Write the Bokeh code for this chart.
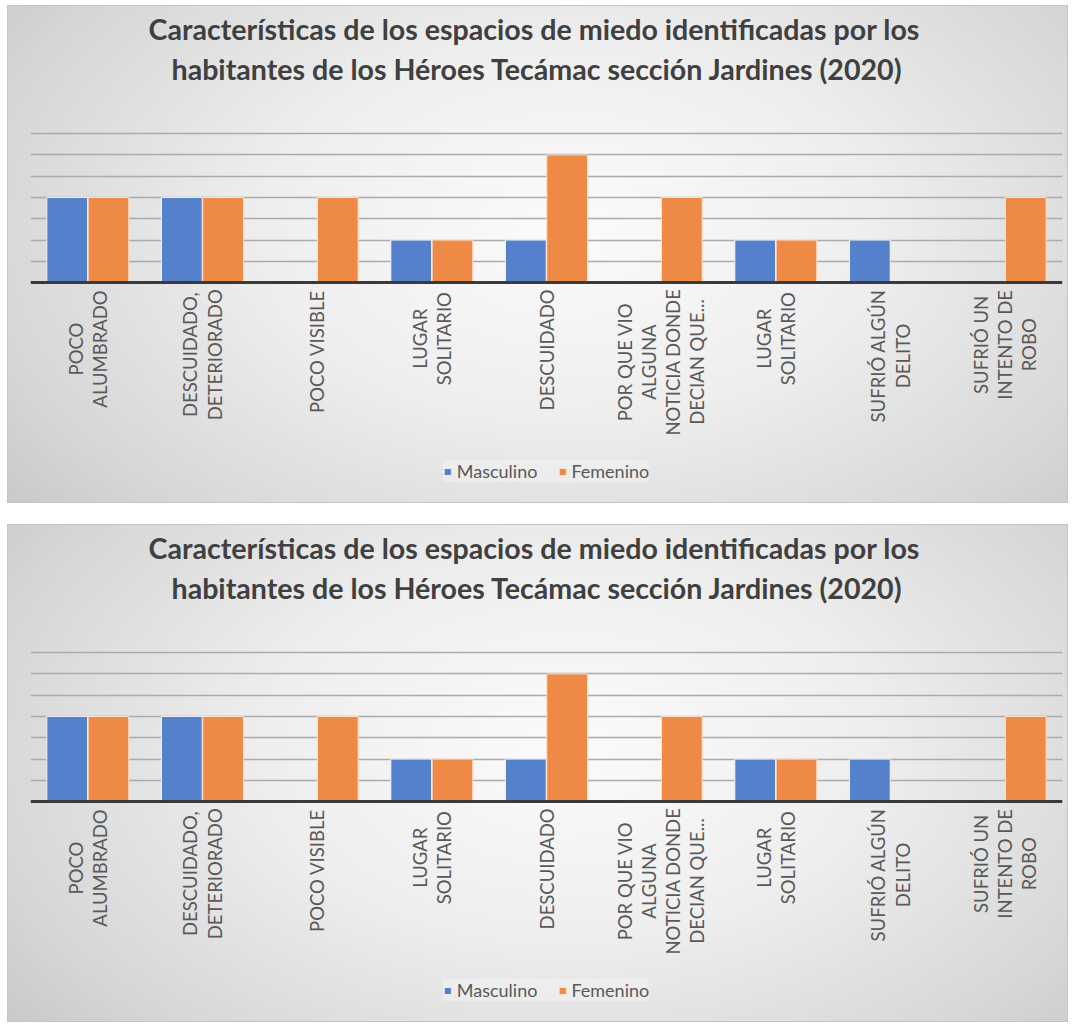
import math
from bokeh.plotting import figure
from bokeh.models import (ColumnDataSource, FixedTicker, Legend, LegendItem, Title, Span)
from bokeh.core.properties import value
from bokeh.layouts import column
from bokeh.transform import dodge
from bokeh.embed import file_html
from bokeh.resources import INLINE

# ---- data ----
title_lines = ["Características de los espacios de miedo identificadas por los",
               "habitantes de los Héroes Tecámac sección Jardines (2020)"]
categories = ["POCO\nALUMBRADO", "DESCUIDADO,\nDETERIORADO", "POCO VISIBLE",
              "LUGAR\nSOLITARIO", "DESCUIDADO",
              "POR QUE VIO\nALGUNA\nNOTICIA DONDE\nDECIAN QUE...",
              "LUGAR\nSOLITARIO", "SUFRIÓ ALGÚN\nDELITO",
              "SUFRIÓ UN\nINTENTO DE\nROBO"]
masculino = [4, 4, 0, 2, 2, 0, 2, 2, 0]
femenino = [4, 4, 4, 2, 6, 4, 2, 0, 4]
series_names = ["Masculino", "Femenino"]
grid_values = [1, 2, 3, 4, 5, 6, 7]

BLUE = "#5580cc"
ORANGE = "#ee8a45"
FONT = "Lato"
LABEL_PX = 18.5

# approximate uppercase advance widths (em) used to centre wrapped label lines
_W = {"I": .26, "J": .37, "L": .48, "E": .51, "F": .49, "S": .48, "T": .52, "P": .56,
      "B": .59, "R": .59, "C": .61, "A": .63, "Á": .63, "U": .65, "Ú": .65, "G": .65,
      "D": .67, "N": .69, "O": .72, "Ó": .72, "Q": .72, "M": .81, "V": .63, " ": .23,
      ",": .2, ".": .2}


def line_px(s):
    return sum(_W.get(ch, .58) for ch in s) * LABEL_PX


def make_chart():
    xs = list(range(len(categories)))
    src = ColumnDataSource(dict(x=xs, m=masculino, f=femenino))
    lab = ColumnDataSource(dict(
        x=xs, y=[0] * len(xs), text=categories,
        yoff=[13 + max(line_px(l) for l in c.split("\n")) / 2 for c in categories]))

    p = figure(width=1061, height=498, x_range=(-0.5, len(categories) - 0.5),
               y_range=(-10.095, 9.167), output_backend="svg", toolbar_location=None,
               min_border_left=23, min_border_right=6, min_border_top=82,
               min_border_bottom=6)
    p.styles = {"background": "radial-gradient(ellipse 72% 95% at 53% 45%, #fbfbfb 0%, #eeeeee 40%, #d6d6d6 78%, #c4c4c4 100%)",
                "box-shadow": "inset 0 0 0 1px #c4c4c4"}
    p.background_fill_color = None
    p.border_fill_color = None
    p.outline_line_color = None

    r1 = p.vbar(x=dodge("x", -0.18, range=p.x_range), top="m", width=0.355, source=src,
                fill_color=BLUE, line_color="#f2f2f2", line_width=1)
    r2 = p.vbar(x=dodge("x", 0.18, range=p.x_range), top="f", width=0.355, source=src,
                fill_color=ORANGE, line_color="#fbe3d3", line_width=1)

    p.xaxis.visible = False
    p.yaxis.visible = False
    p.xgrid.grid_line_color = None
    p.ygrid.ticker = FixedTicker(ticks=grid_values)
    p.ygrid.grid_line_color = "#ababab"
    p.ygrid.grid_line_width = 1.5
    p.add_layout(Span(location=0, dimension="width", line_color="#3a3a3a", line_width=3))

    p.text(x="x", y="y", text="text", source=lab, angle=math.pi / 2,
           y_offset="yoff", text_align="center", text_baseline="middle",
           text_font=value(FONT), text_font_size=f"{LABEL_PX}px",
           text_color="#595959", text_line_height=1.1)

    legend = Legend(items=[LegendItem(label=series_names[0], renderers=[r1]),
                           LegendItem(label=series_names[1], renderers=[r2])],
                    orientation="horizontal", location="bottom_center",
                    label_text_font=FONT, label_text_font_size="18px",
                    label_text_color="#595959", glyph_width=9, glyph_height=9,
                    label_standoff=5, spacing=20, padding=9, margin=15,
                    background_fill_color="#f2f2f2", background_fill_alpha=0.55,
                    border_line_color=None)
    p.add_layout(legend, "center")

    t2 = Title(text=title_lines[1], align="left", text_font=FONT, offset=141,
               text_font_size="28.6px", text_font_style="bold", text_color="#404040",
               standoff=3)
    t1 = Title(text=title_lines[0], align="left", text_font=FONT, offset=118,
               text_font_size="28.6px", text_font_style="bold", text_color="#404040",
               standoff=5)
    p.add_layout(t2, "above")
    p.add_layout(t1, "above")
    return p


layout = column(make_chart(), make_chart(), spacing=21, margin=(5, 0, 0, 7))
open("out.html", "w").write(file_html(layout, INLINE))
